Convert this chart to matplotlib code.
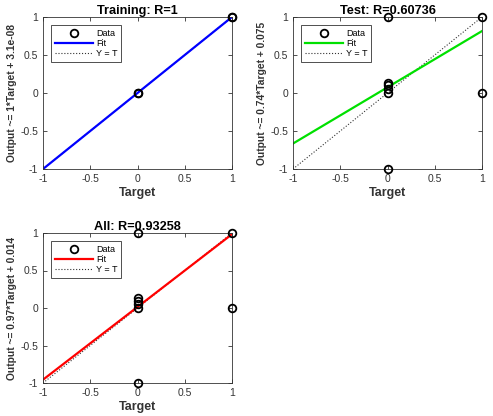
import matplotlib
matplotlib.use("Agg")
import matplotlib.pyplot as plt
import numpy as np

plt.rcParams["font.family"] = ["Liberation Sans", "DejaVu Sans"]

# regression panels: data points (target, output) and fit line per panel
train_t = [0, 0, 1, 1]
train_o = [0, 0, 1, 1]

test_t = [0, 0, 0, 0, 0, 0, 1, 1]
test_o = [1, -1, 0, 0.05, 0.1, 0.13, 1, 0]

all_t = [0, 0, 0, 0, 0, 0, 1, 1]
all_o = [1, -1, 0, 0.05, 0.1, 0.13, 1, 0]

titles = ["Training: R=1", "Test: R=0.60736", "All: R=0.93258"]
ylabels = ["Output ~= 1*Target + 3.1e-08",
           "Output ~= 0.74*Target + 0.075",
           "Output ~= 0.97*Target + 0.014"]
slopes = [1.0, 0.74, 0.97]
intercepts = [3.1e-08, 0.075, 0.014]
colors = ["#0000ff", "#00e000", "#ff0000"]
targets = [train_t, test_t, all_t]
outputs = [train_o, test_o, all_o]

ticks = [-1, -0.5, 0, 0.5, 1]
tick_labels = ["-1", "-0.5", "0", "0.5", "1"]

W, H = 493, 416
fig = plt.figure(figsize=(W / 100, H / 100), dpi=100)
boxes = [
    (43, 17, 232, 169),
    (293, 17, 482, 169),
    (43, 233, 232, 383),
]

for i in range(3):
    x0, y0, x1, y1 = boxes[i]
    ax = fig.add_axes([x0 / W, 1 - y1 / H, (x1 - x0) / W, (y1 - y0) / H])
    xs = np.array([-1, 1])
    ax.plot(targets[i], outputs[i], "o", mfc="none", mec="black", ms=5.5,
            mew=1.3, label="Data", zorder=3, clip_on=False)
    ax.plot(xs, slopes[i] * xs + intercepts[i], color=colors[i], lw=1.6,
            label="Fit", zorder=2)
    ax.plot(xs, xs, ":", color="#333333", lw=0.8, label="Y = T", zorder=1)
    ax.set_xlim(-1, 1)
    ax.set_ylim(-1, 1)
    ax.set_xticks(ticks, tick_labels)
    ax.set_yticks(ticks, tick_labels)
    ax.tick_params(direction="in", top=True, right=True, labelsize=7.5,
                   length=3, width=0.6, colors="#333333", labelcolor="#333333")
    for s in ax.spines.values():
        s.set_linewidth(0.6)
        s.set_color("#333333")
    ax.set_title(titles[i], fontsize=9.2, fontweight="bold", pad=2)
    ax.set_xlabel("Target", fontsize=9, fontweight="bold", labelpad=2,
                  color="#333333")
    ax.set_ylabel(ylabels[i], fontsize=7.4, fontweight="bold", labelpad=2,
                  color="#333333")
    leg = ax.legend(loc="upper left", fontsize=6.5, fancybox=False,
                    edgecolor="#333333", framealpha=1, handlelength=4.2,
                    borderaxespad=0.9, labelspacing=0.15, handletextpad=0.4)
    leg.get_frame().set_linewidth(0.6)

fig.savefig("out.png", dpi=100)
